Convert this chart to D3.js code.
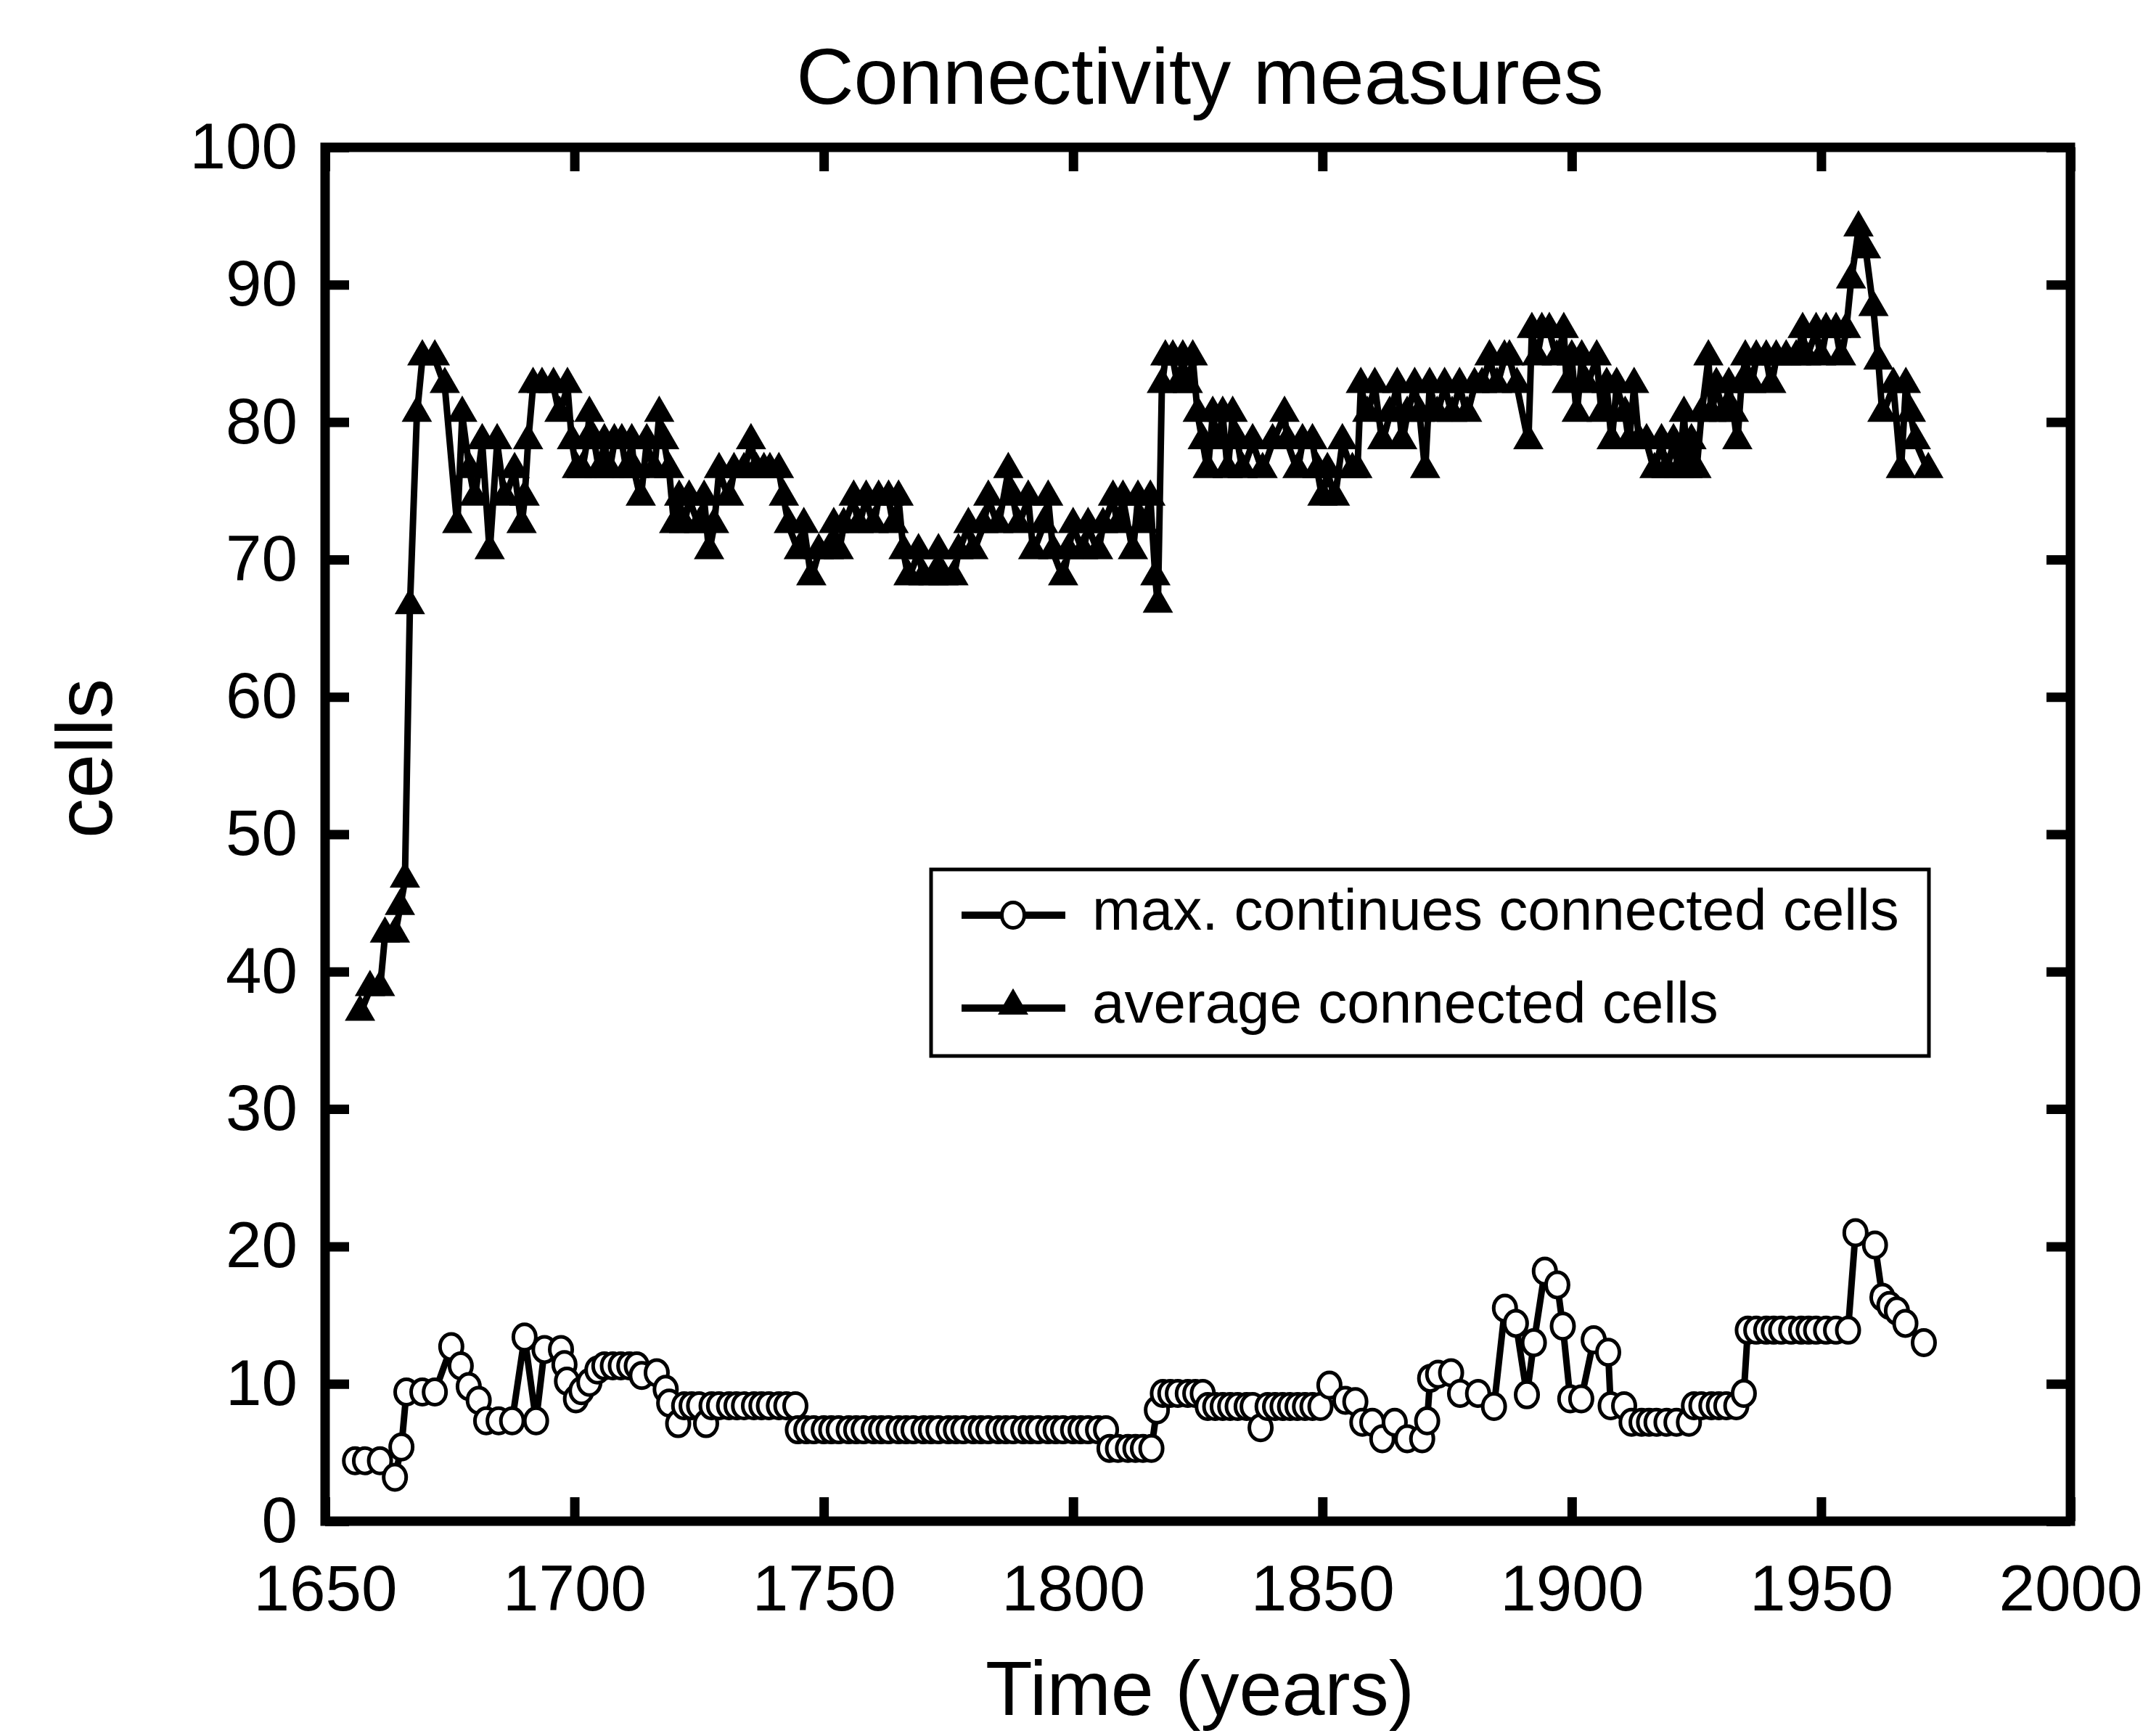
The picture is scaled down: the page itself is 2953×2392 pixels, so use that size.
<!DOCTYPE html>
<html>
<head>
<meta charset="utf-8">
<script src="https://cdn.jsdelivr.net/npm/d3@7"></script>
<style>
  html, body { margin: 0; padding: 0; background: #fff; }
  svg { display: block; }
  text { font-family: "Liberation Sans", Arial, Helvetica, sans-serif; fill: #000; }
</style>
</head>
<body>
<svg id="chart" width="2953" height="2392"></svg>
<script>
// ---- data ----------------------------------------------------------------
const chartTitle = "Connectivity measures";
const xTitle = "Time (years)";
const yTitle = "cells";
const seriesLabels = ["max. continues connected cells", "average connected cells"];

const xTickValues = [1650, 1700, 1750, 1800, 1850, 1900, 1950, 2000];
const yTickValues = [0, 10, 20, 30, 40, 50, 60, 70, 80, 90, 100];

// maximum continuous connected cells (open circles)
const maxYears = [
  1656, 1658, 1661, 1664, 1665.3, 1666.3, 1669.5, 1672, 1675.3, 1677.2,
  1678.8, 1680.8, 1682.3, 1684.8, 1687.5, 1690, 1692.3, 1694, 1697.3, 1698,
  1698.5, 1700.3, 1701.4, 1703, 1704.6, 1706, 1707.7, 1709.3, 1711, 1712.5,
  1713.5, 1716.5, 1718.3, 1719, 1720.8, 1722, 1723.5, 1725, 1726.4, 1727.5,
  1729, 1731, 1732.5, 1734, 1736, 1737.5, 1739, 1741, 1742.5, 1744.3,
  1744.8, 1746.5, 1748, 1750, 1751.5, 1753, 1755, 1756.5, 1758, 1760,
  1761.5, 1763, 1765, 1766.5, 1768, 1770, 1771.5, 1773, 1775, 1776.5,
  1778, 1780, 1781.5, 1783, 1785, 1786.5, 1788, 1790, 1791.5, 1793,
  1795, 1796.5, 1798, 1800, 1801.5, 1803, 1805, 1806.6, 1807.3, 1809,
  1811, 1812.5, 1814, 1815.7, 1816.8, 1818, 1819.5, 1821, 1823, 1824.5,
  1826, 1827, 1828.5, 1830, 1831.5, 1833, 1834.8, 1836, 1837.6, 1839,
  1840.5, 1842, 1843.5, 1845, 1846.5, 1848, 1849.6, 1851.4, 1854.6, 1856.6,
  1858, 1860, 1862, 1864.5, 1867, 1870, 1871, 1871.6, 1873.2, 1875.8,
  1877.6, 1881.2, 1884.4, 1886.6, 1888.8, 1891, 1892.4, 1894.6, 1897.1, 1898.2,
  1899.7, 1901.9, 1904.4, 1907.3, 1907.8, 1910.5, 1912, 1914, 1915.5, 1917,
  1919, 1921, 1923.5, 1924.5, 1926, 1928, 1929.5, 1931, 1933, 1934.5,
  1935.3, 1937, 1939, 1940.5, 1942, 1944, 1946, 1947.5, 1949, 1951,
  1953, 1955.4, 1956.9, 1960.8, 1962.3, 1963.7, 1965.2, 1966.9, 1970.6
];
const maxCells = [
  4.4, 4.4, 4.4, 3.2, 5.4, 9.4, 9.4, 9.4, 12.7, 11.3,
  9.8, 8.8, 7.3, 7.3, 7.3, 13.4, 7.3, 12.5, 12.5, 11.4,
  10.2, 8.9, 9.5, 10.1, 11.0, 11.3, 11.3, 11.3, 11.3, 11.3,
  10.6, 10.8, 9.6, 8.6, 7.1, 8.4, 8.4, 8.4, 7.1, 8.4,
  8.4, 8.4, 8.4, 8.4, 8.4, 8.4, 8.4, 8.4, 8.4, 8.4,
  6.65, 6.65, 6.65, 6.65, 6.65, 6.65, 6.65, 6.65, 6.65, 6.65,
  6.65, 6.65, 6.65, 6.65, 6.65, 6.65, 6.65, 6.65, 6.65, 6.65,
  6.65, 6.65, 6.65, 6.65, 6.65, 6.65, 6.65, 6.65, 6.65, 6.65,
  6.65, 6.65, 6.65, 6.65, 6.65, 6.65, 6.65, 6.65, 5.3, 5.3,
  5.3, 5.3, 5.3, 5.3, 8.1, 9.3, 9.3, 9.3, 9.3, 9.3,
  9.3, 8.35, 8.35, 8.35, 8.35, 8.35, 8.35, 8.35, 6.8, 8.35,
  8.35, 8.35, 8.35, 8.35, 8.35, 8.35, 8.35, 9.9, 8.8, 8.7,
  7.2, 7.2, 6.0, 7.2, 6.0, 6.0, 7.3, 10.4, 10.7, 10.8,
  9.3, 9.3, 8.35, 15.5, 14.4, 9.2, 13.0, 18.2, 17.2, 14.2,
  8.9, 8.9, 13.2, 12.3, 8.4, 8.4, 7.2, 7.2, 7.2, 7.2,
  7.2, 7.2, 7.2, 8.4, 8.4, 8.4, 8.4, 8.4, 8.4, 9.3,
  13.9, 13.9, 13.9, 13.9, 13.9, 13.9, 13.9, 13.9, 13.9, 13.9,
  13.9, 13.9, 21.0, 20.1, 16.3, 15.7, 15.3, 14.4, 13.0
];

// average connected cells (filled triangles)
const avgYears = [
  1657, 1659, 1661, 1662, 1664, 1665, 1666, 1667, 1668.4, 1669.5,
  1672, 1674, 1676.5, 1677.5, 1679, 1680, 1681.5, 1683, 1684.5, 1686,
  1688, 1689.4, 1690, 1690.7, 1691.7, 1693.5, 1695.8, 1697, 1698.6, 1699.5,
  1700.5, 1701.5, 1702.5, 1703, 1704, 1705, 1706, 1707, 1708, 1709.5,
  1710.5, 1711.5, 1712, 1713.3, 1714.5, 1716, 1717, 1718, 1719, 1720,
  1721, 1722, 1723, 1725, 1726, 1727, 1728, 1729, 1731, 1732,
  1734, 1735.4, 1736.5, 1738, 1739.2, 1741, 1742, 1743, 1745, 1746,
  1747.5, 1749, 1751, 1752, 1753, 1754, 1756, 1757, 1758.5, 1760,
  1761, 1763, 1764, 1765, 1766, 1767, 1769, 1770, 1772, 1773,
  1774, 1776, 1777, 1779, 1780, 1782, 1783, 1785, 1787, 1788,
  1789, 1791, 1792, 1794, 1795, 1796, 1798, 1799, 1800, 1802,
  1803, 1805, 1806, 1808, 1809, 1810, 1812, 1813, 1814, 1815.5,
  1816.5, 1817, 1817.8, 1818.5, 1820, 1821, 1822, 1823, 1824, 1825,
  1826, 1827, 1828, 1829, 1830, 1831, 1832, 1833, 1834, 1836,
  1838, 1840, 1842.4, 1843, 1845, 1846, 1848, 1849, 1850, 1851,
  1852.5, 1854, 1856, 1857, 1857.7, 1859, 1860.5, 1862, 1863.5, 1865,
  1866, 1867, 1868.5, 1869.5, 1870.6, 1871.5, 1873, 1874.5, 1876, 1877.5,
  1879, 1880.5, 1882, 1883.5, 1885, 1886.5, 1887.5, 1889, 1891.3, 1892,
  1893, 1894, 1895.5, 1897, 1898.4, 1899, 1900, 1901, 1902, 1903,
  1905, 1906, 1907, 1908, 1909, 1910.7, 1911.5, 1912.5, 1913.5, 1915,
  1916.6, 1918, 1919, 1920.4, 1921.5, 1922.5, 1923.2, 1924, 1925, 1926,
  1927.4, 1928, 1929, 1930.5, 1931.5, 1932.5, 1933.2, 1934, 1934.8, 1936,
  1937, 1939, 1940, 1941, 1943, 1945, 1946.3, 1947, 1949, 1950,
  1951, 1953, 1954, 1955, 1956, 1957.5, 1959, 1960.5, 1961.5, 1962.3,
  1964.5, 1966, 1967, 1968, 1969, 1971.5
];
const avgCells = [
  36.9, 38.7, 38.7, 42.6, 42.6, 44.6, 46.6, 66.5, 80.5, 84.6,
  84.6, 82.6, 72.4, 80.5, 76.4, 74.4, 78.5, 70.5, 78.5, 74.4,
  76.4, 72.4, 74.4, 78.5, 82.6, 82.6, 82.6, 80.5, 82.6, 78.5,
  76.4, 76.4, 78.5, 80.5, 78.5, 76.4, 78.5, 76.4, 78.5, 78.5,
  76.4, 78.5, 76.4, 74.4, 78.5, 76.4, 80.5, 78.5, 76.4, 72.4,
  74.4, 72.4, 74.4, 72.4, 74.4, 70.5, 72.4, 76.4, 74.4, 76.4,
  76.4, 78.5, 76.4, 76.4, 76.4, 76.4, 74.4, 72.4, 70.5, 72.4,
  68.6, 70.5, 70.5, 72.4, 70.5, 72.4, 74.4, 72.4, 74.4, 72.4,
  74.4, 74.4, 72.4, 74.4, 70.5, 68.6, 70.5, 68.6, 68.6, 70.5,
  68.6, 68.6, 70.5, 72.4, 70.5, 72.4, 74.4, 72.4, 76.4, 74.4,
  72.4, 74.4, 70.5, 72.4, 74.4, 70.5, 68.6, 70.5, 72.4, 70.5,
  72.4, 70.5, 72.4, 74.4, 72.4, 74.4, 70.5, 74.4, 72.4, 74.4,
  68.6, 66.6, 82.6, 84.6, 84.6, 82.6, 84.6, 82.6, 84.6, 80.5,
  78.5, 76.4, 80.5, 78.5, 80.5, 76.4, 80.5, 78.5, 76.4, 78.5,
  76.4, 78.5, 80.5, 78.5, 76.4, 78.5, 78.5, 76.4, 74.4, 76.4,
  74.4, 78.5, 76.4, 76.4, 82.6, 80.5, 82.6, 78.5, 80.5, 82.6,
  78.5, 80.5, 82.6, 80.5, 76.4, 82.6, 80.5, 82.6, 80.5, 82.6,
  80.5, 82.6, 82.6, 84.6, 82.6, 84.6, 84.6, 82.6, 78.5, 86.6,
  84.6, 86.6, 86.6, 84.6, 86.6, 82.6, 84.6, 80.5, 84.6, 82.6,
  84.6, 80.5, 82.6, 78.5, 82.6, 80.5, 78.5, 82.6, 78.5, 78.5,
  76.4, 78.5, 76.4, 78.5, 76.4, 80.5, 76.4, 78.5, 76.4, 80.5,
  84.6, 80.5, 82.6, 80.5, 82.6, 80.5, 78.5, 82.6, 84.6, 82.6,
  84.6, 84.6, 82.6, 84.6, 84.6, 84.6, 86.6, 84.6, 86.6, 84.6,
  86.6, 86.6, 84.6, 86.6, 90.2, 94.0, 92.4, 88.2, 84.3, 80.5,
  82.6, 76.4, 82.6, 80.5, 78.5, 76.4
];

// ---- layout --------------------------------------------------------------
const svg = d3.select("#chart");
const plot = { left: 448, right: 2853, top: 203, bottom: 2096 };

const x = d3.scaleLinear().domain([1650, 2000]).range([plot.left, plot.right]);
const y = d3.scaleLinear().domain([0, 100]).range([plot.bottom, plot.top]);

const frameWidth = 13;
const tickLen = 33;
const tickFont = 89;

// plot frame
svg.append("rect")
  .attr("x", plot.left).attr("y", plot.top)
  .attr("width", plot.right - plot.left).attr("height", plot.bottom - plot.top)
  .attr("fill", "none").attr("stroke", "#000").attr("stroke-width", frameWidth);

function styleAxis(g) {
  g.select(".domain").remove();
  g.selectAll(".tick line").attr("stroke", "#000").attr("stroke-width", frameWidth);
  g.selectAll(".tick text")
    .style("font-family", '"Liberation Sans", Arial, Helvetica, sans-serif')
    .style("font-size", tickFont + "px").attr("fill", "#000");
}

svg.append("g").attr("transform", `translate(0,${plot.bottom})`)
  .call(d3.axisBottom(x).tickValues(xTickValues).tickFormat(d3.format("d"))
    .tickSizeInner(-tickLen).tickSizeOuter(0).tickPadding(60))
  .call(styleAxis);
svg.append("g").attr("transform", `translate(0,${plot.top})`)
  .call(d3.axisTop(x).tickValues(xTickValues).tickFormat("")
    .tickSizeInner(-tickLen).tickSizeOuter(0))
  .call(styleAxis);
svg.append("g").attr("transform", `translate(${plot.left},0)`)
  .call(d3.axisLeft(y).tickValues(yTickValues).tickFormat(d3.format("d"))
    .tickSizeInner(-tickLen).tickSizeOuter(0).tickPadding(38))
  .call(styleAxis);
svg.append("g").attr("transform", `translate(${plot.right},0)`)
  .call(d3.axisRight(y).tickValues(yTickValues).tickFormat("")
    .tickSizeInner(-tickLen).tickSizeOuter(0))
  .call(styleAxis);

// ---- series --------------------------------------------------------------
const maxData = maxYears.map((yr, i) => ({ year: yr, value: maxCells[i] }));
const avgData = avgYears.map((yr, i) => ({ year: yr, value: avgCells[i] }));

const line = d3.line().x(d => x(d.year)).y(d => y(d.value));
const lineWidth = 9;
const triangle = d3.symbol().type(d3.symbolTriangle).size(760);

function drawCircleMarker(sel) {
  sel.attr("rx", 15.5).attr("ry", 17.5)
    .attr("fill", "#fff").attr("stroke", "#000").attr("stroke-width", 5);
}

const gMax = svg.append("g");
gMax.append("path").datum(maxData).attr("d", line)
  .attr("fill", "none").attr("stroke", "#000").attr("stroke-width", lineWidth)
  .attr("stroke-linejoin", "round");
gMax.selectAll("ellipse").data(maxData).join("ellipse")
  .attr("cx", d => x(d.year)).attr("cy", d => y(d.value))
  .call(drawCircleMarker);

const gAvg = svg.append("g");
gAvg.append("path").datum(avgData).attr("d", line)
  .attr("fill", "none").attr("stroke", "#000").attr("stroke-width", lineWidth)
  .attr("stroke-linejoin", "round");
gAvg.selectAll("path.mark").data(avgData).join("path").attr("class", "mark")
  .attr("d", triangle)
  .attr("transform", d => `translate(${x(d.year)},${y(d.value) - 3})`)
  .attr("fill", "#000");

// ---- legend --------------------------------------------------------------
const legend = svg.append("g");
legend.append("rect")
  .attr("x", 1283).attr("y", 1198).attr("width", 1375).attr("height", 257)
  .attr("fill", "#fff").attr("stroke", "#000").attr("stroke-width", 5);

const rowY = [1261, 1389];
const sampleX0 = 1325, sampleX1 = 1468, sampleMid = 1396, textX = 1505;

[0, 1].forEach(i => {
  legend.append("line")
    .attr("x1", sampleX0).attr("x2", sampleX1)
    .attr("y1", rowY[i]).attr("y2", rowY[i])
    .attr("stroke", "#000").attr("stroke-width", 10);
  legend.append("text")
    .attr("x", textX).attr("y", rowY[i] + 20)
    .style("font-size", "80px")
    .text(seriesLabels[i]);
});
legend.append("ellipse").attr("cx", sampleMid).attr("cy", rowY[0]).call(drawCircleMarker);
legend.append("path").attr("d", triangle)
  .attr("transform", `translate(${sampleMid},${rowY[1] - 3})`).attr("fill", "#000");

// ---- titles --------------------------------------------------------------
const midX = (plot.left + plot.right) / 2;
svg.append("text").attr("x", midX + 3).attr("y", 143)
  .attr("text-anchor", "middle").style("font-size", "110px").text(chartTitle);
svg.append("text").attr("x", midX + 3).attr("y", 2363)
  .attr("text-anchor", "middle").style("font-size", "106px").text(xTitle);
svg.append("text")
  .attr("transform", `translate(154,1045) rotate(-90)`)
  .attr("text-anchor", "middle").style("font-size", "110px").text(yTitle);
</script>
</body>
</html>
